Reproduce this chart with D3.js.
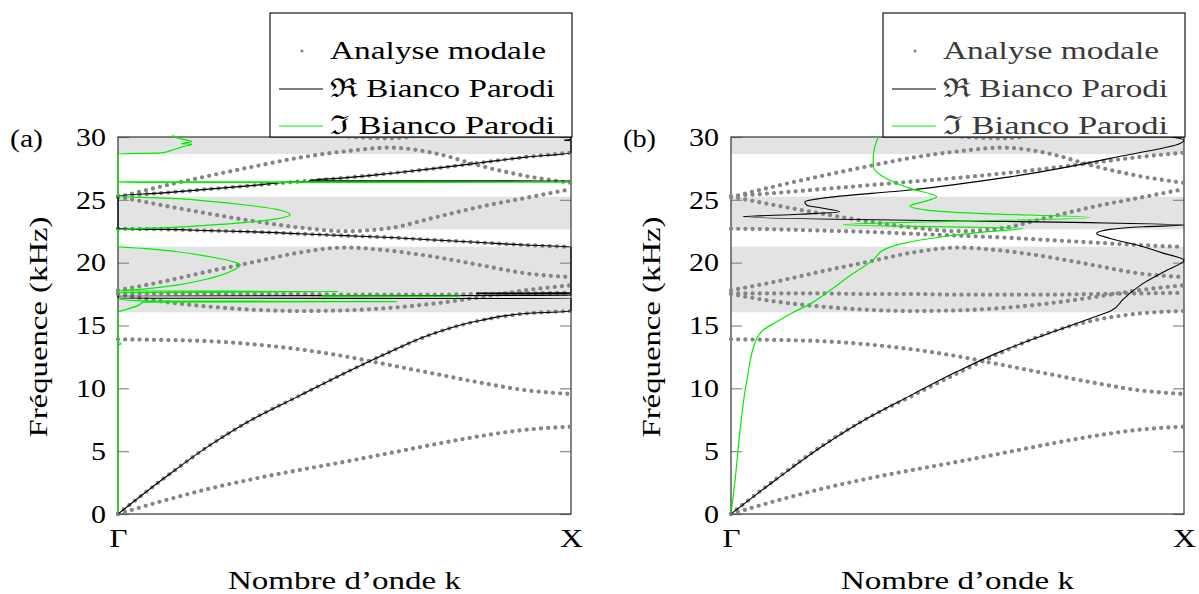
<!DOCTYPE html>
<html>
<head>
<meta charset="utf-8">
<script src="https://cdn.jsdelivr.net/npm/d3@7"></script>
<style>
  body { margin: 0; background: #fff; }
</style>
</head>
<body>
<svg id="chart" width="1199" height="594"></svg>
<script>
// ---- Dispersion data (frequency in kHz, reduced wave number 0 = Γ, 1 = X) ----
const kGrid = [0, 0.1, 0.2, 0.3, 0.4, 0.5, 0.6, 0.7, 0.8, 0.9, 1];

// modal analysis branches, sampled on kGrid
const modeA = [0, 1.05, 2.0, 2.8, 3.5, 4.15, 4.85, 5.55, 6.2, 6.7, 6.95];
const modeB = [0, 2.8, 5.4, 7.6, 9.4, 11.2, 12.9, 14.4, 15.4, 15.95, 16.15];
const modeC = [13.9, 13.85, 13.75, 13.5, 13.1, 12.55, 11.85, 11.15, 10.45, 9.85, 9.55];
const modeD = [17.5, 16.9, 16.5, 16.25, 16.15, 16.2, 16.4, 16.75, 17.25, 17.8, 18.2];
const modeE = [17.55, 17.55, 17.55, 17.5, 17.5, 17.45, 17.45, 17.45, 17.5, 17.55, 17.6];
const modeF = [17.8, 18.5, 19.3, 20.05, 20.8, 21.2, 20.95, 20.45, 19.8, 19.15, 18.85];
const modeG = [22.7, 22.65, 22.55, 22.45, 22.3, 22.15, 22.0, 21.8, 21.6, 21.4, 21.25];
const modeH = [25.25, 24.55, 23.9, 23.3, 22.8, 22.5, 22.75, 23.6, 24.45, 25.15, 25.85];
const modeI = [25.3, 25.55, 25.85, 26.15, 26.45, 26.75, 27.1, 27.5, 27.95, 28.4, 28.75];
const modeJ = [25.2, 26.1, 26.9, 27.65, 28.35, 28.85, 29.15, 28.7, 27.7, 26.9, 26.35];
const modeTopK = [0.4, 0.5, 0.6, 0.7, 0.8];
const modeTop = [30.7, 30.05, 29.9, 30.3, 31.0];

// band gaps (kHz)
const gapLow = [16.05, 22.65, 28.65];
const gapHigh = [21.27, 25.25, 30];

// Bianco–Parodi, case (a): real and imaginary parts of k along frequency
const reFa = [0, 2.8, 5.4, 7.6, 9.4, 11.2, 12.9, 14.4, 15.4, 15.95, 16.15,
  17.15, 17.17, 17.36, 17.39, 17.5, 17.52, 17.55, 17.58, 17.6, 21.25,
  21.4, 21.6, 21.8, 22.0, 22.15, 22.3, 22.45, 22.55, 22.65, 22.7, 25.3,
  25.55, 25.85, 26.15, 26.45, 26.5, 26.53, 26.75, 27.1, 27.5, 27.95, 28.4, 28.75,
  29.7, 29.75, 29.8, 30.2];
const reKa = [0, 0.1, 0.2, 0.3, 0.4, 0.5, 0.6, 0.7, 0.8, 0.9, 1,
  1, 0, 0, 1, 1, 0.79, 1, 0.79, 1, 1,
  0.9, 0.8, 0.7, 0.6, 0.5, 0.4, 0.3, 0.2, 0.1, 0, 0,
  0.1, 0.2, 0.3, 0.4, 1, 0.42, 0.5, 0.6, 0.7, 0.8, 0.9, 1,
  1, 0.985, 1, 1];
const imFa = [0, 13.4, 13.55, 13.7, 16.05, 16.2, 16.36, 16.6, 16.86, 16.9, 16.96, 17.05, 17.2, null,
  17.32, 17.34, 17.36, null,
  17.62, 17.7, 17.76, 17.9, 18.22, 18.75, 19.41, 19.81, 20.07, 20.47, 20.87, 21.14, 21.27,
  22.62, 22.83, 23.18, 23.49, 23.81, 24.24, 24.61, 24.88, 25.09, 25.2, 25.24,
  26.38, 26.41, 26.44, 28.66, 28.74, 28.93, 29.2, 29.43, 29.46, 29.65, 29.81, 30.0, 30.2];
const imKa = [0, 0, 0.007, 0, 0, 0.01, 0.026, 0.045, 0.056, 0.615, 0.056, 0.01, 0, null,
  0.45, 0.755, 0.45, null,
  0, 0.486, 0.004, 0.056, 0.13, 0.203, 0.255, 0.27, 0.255, 0.203, 0.13, 0.056, 0,
  0, 0.13, 0.277, 0.35, 0.38, 0.35, 0.277, 0.203, 0.13, 0.056, 0,
  0, 1, 0, 0, 0.096, 0.118, 0.14, 0.163, 0.14, 0.163, 0.144, 0.126, 0.12];

// Bianco–Parodi, case (b)
const reFb = [0, 2.75, 5.35, 7.6, 9.5, 11.35, 13.0, 14.35, 15.65, 16.2, 17.1, 18.35, 19.4, 20.2,
  20.8, 21.27, 21.93, 22.33, 22.65, 22.86, 22.99, 23.65, 23.85, 24.05, 24.35, 24.58, 24.85,
  25.12, 25.78, 26.83, 28.3, 29.75, 30.0];
const reKb = [0, 0.1, 0.2, 0.3, 0.4, 0.5, 0.6, 0.7, 0.8, 0.84, 0.866, 0.91, 0.962, 1.0,
  0.95, 0.91, 0.837, 0.807, 0.837, 0.91, 1.0, 0.027, 0.15, 0.24, 0.2, 0.167, 0.163,
  0.2, 0.395, 0.616, 0.837, 1.0, 0.975];
const imFb = [0, 2.7, 6.68, 10.66, 13.98, 14.64, 15.3, 16.0, 16.7, 17.8, 19.15, 20.2, 21.0,
  21.53, 22.06, 22.45, 22.73, 23.02, 23.6, 23.92, 24.18, 24.5, 24.9, 25.24, 25.91, 26.83,
  27.63, 28.43, 29.3, 30.0];
const imKb = [0, 0.009, 0.02, 0.035, 0.057, 0.071, 0.101, 0.135, 0.174, 0.219, 0.27, 0.314, 0.336,
  0.38, 0.468, 0.56, 0.645, 0.248, 0.792, 0.542, 0.432, 0.395, 0.43, 0.454, 0.395, 0.336,
  0.314, 0.314, 0.318, 0.325];

const yTicks = [0, 5, 10, 15, 20, 25, 30];
const xTickLabels = ["Γ", "X"];
const legendLabels = ["Analyse modale", "ℜ Bianco Parodi", "ℑ Bianco Parodi"];

// ---- layout ----
const PW = 453, PH = 377, TOP = 137;
const FONT = 26;
const SERIF = "'Liberation Serif', 'DejaVu Serif', serif";
const panels = [
  { id: "a", tag: "(a)", left: 118, legendLeft: 270, legendInk: "#000",
    reK: reKa, reF: reFa, imK: imKa, imF: imFa },
  { id: "b", tag: "(b)", left: 731, legendLeft: 883, legendInk: "#3a3a3a",
    reK: reKb, reF: reFb, imK: imKb, imF: imFb }
];

const modal = [
  [kGrid, modeA], [kGrid, modeB], [kGrid, modeC], [kGrid, modeD], [kGrid, modeE],
  [kGrid, modeF], [kGrid, modeG], [kGrid, modeH], [kGrid, modeI], [kGrid, modeJ],
  [modeTopK, modeTop]
].map(([ks, fs]) => ks.map((k, i) => ({ k, f: fs[i] })));

const svg = d3.select("#chart");
const x = d3.scaleLinear().domain([0, 1]).range([0, PW]);
const y = d3.scaleLinear().domain([0, 30]).range([PH, 0]);

function pairs(ks, fs) { return ks.map((k, i) => ({ k, f: fs[i] })); }
// serif text, widened to the set of the typeset labels
function serif(sel, len) {
  sel.style("font-family", SERIF).style("font-size", FONT + "px");
  if (len != null) sel.attr("textLength", len).attr("lengthAdjust", "spacingAndGlyphs");
  return sel;
}

panels.forEach(p => {
  const g = svg.append("g").attr("transform", `translate(${p.left},${TOP})`);

  const clipId = "clip-" + p.id;
  g.append("clipPath").attr("id", clipId)
    .append("rect").attr("x", -3).attr("y", -2).attr("width", PW + 6).attr("height", PH + 5);

  // band gaps
  g.selectAll("rect.gap").data(gapLow.map((lo, i) => [lo, gapHigh[i]])).join("rect")
    .attr("class", "gap")
    .attr("x", 0).attr("width", PW)
    .attr("y", d => y(d[1])).attr("height", d => y(d[0]) - y(d[1]))
    .attr("fill", "#e3e3e3");

  // tick marks (inside, both sides) and labels
  const left = g.append("g").call(d3.axisLeft(y).tickValues(yTicks)
    .tickSizeInner(-11).tickSizeOuter(0).tickPadding(12));
  const right = g.append("g").attr("transform", `translate(${PW},0)`)
    .call(d3.axisRight(y).tickValues(yTicks).tickSizeInner(-11).tickSizeOuter(0).tickFormat(""));
  const bottom = g.append("g").attr("transform", `translate(0,${PH})`)
    .call(d3.axisBottom(x).tickValues([0, 1]).tickSize(0).tickPadding(15)
      .tickFormat((d, i) => xTickLabels[i]));
  [left, right, bottom].forEach(a => {
    a.select(".domain").remove();
    a.selectAll(".tick line").attr("stroke", "#8a8a8a").attr("stroke-width", 1.2);
  });
  serif(left.selectAll("text"), d => String(d).length * 15).attr("fill", "#000");
  serif(bottom.selectAll("text"), (d, i) => [18, 23][i]).attr("fill", "#000");

  // frame
  g.append("rect").attr("width", PW).attr("height", PH)
    .attr("fill", "none").attr("stroke", "#333").attr("stroke-width", 1.2);

  const plot = g.append("g").attr("clip-path", `url(#${clipId})`);

  // modal analysis: dotted branches
  const dotLine = d3.line().x(d => x(d.k)).y(d => y(d.f)).curve(d3.curveMonotoneX);
  plot.selectAll("path.modal").data(modal).join("path")
    .attr("class", "modal")
    .attr("d", dotLine)
    .attr("fill", "none").attr("stroke", "#858585")
    .attr("stroke-width", 4.3).attr("stroke-linecap", "round")
    .attr("stroke-dasharray", "0 7.2");

  // Bianco–Parodi curves, parametrised by frequency
  const bpLine = d3.line().defined(d => d.k != null && d.f != null)
    .x(d => x(d.k)).y(d => y(d.f)).curve(d3.curveMonotoneY);
  plot.append("path").datum(pairs(p.reK, p.reF))
    .attr("d", bpLine).attr("fill", "none").attr("stroke", "#000").attr("stroke-width", 1.1);
  plot.append("path").datum(pairs(p.imK, p.imF))
    .attr("d", bpLine).attr("fill", "none").attr("stroke", "#00ee00").attr("stroke-width", 1.2);

  // axis titles and panel tag
  serif(svg.append("text"), 33).attr("x", p.left - 108).attr("y", 147).text(p.tag);
  serif(svg.append("text"), 221)
    .attr("transform", `translate(${p.left - 71},327) rotate(-90)`)
    .attr("text-anchor", "middle")
    .text("Fréquence (kHz)");
  serif(svg.append("text"), 233).attr("x", p.left + PW / 2).attr("y", 589)
    .attr("text-anchor", "middle")
    .text("Nombre d’onde k");

  // legend
  const L = svg.append("g").attr("transform", `translate(${p.legendLeft},13)`);
  L.append("rect").attr("width", 302).attr("height", 124)
    .attr("fill", "#fff").attr("stroke", "#000").attr("stroke-width", 1.1);
  L.append("circle").attr("cx", 32).attr("cy", 38).attr("r", 1.6).attr("fill", "#858585");
  L.append("line").attr("x1", 9).attr("x2", 53).attr("y1", 76).attr("y2", 76)
    .attr("stroke", "#000").attr("stroke-width", 1.1);
  L.append("line").attr("x1", 9).attr("x2", 53).attr("y1", 113).attr("y2", 113)
    .attr("stroke", "#00ee00").attr("stroke-width", 1.2);
  const lens = [216, 225, 225];
  serif(L.selectAll("text.lab").data(legendLabels).join("text"), (d, i) => lens[i])
    .attr("class", "lab")
    .attr("x", 60).attr("y", (d, i) => [46, 84, 121][i])
    .attr("fill", p.legendInk)
    .text(d => d);
});
</script>
</body>
</html>
